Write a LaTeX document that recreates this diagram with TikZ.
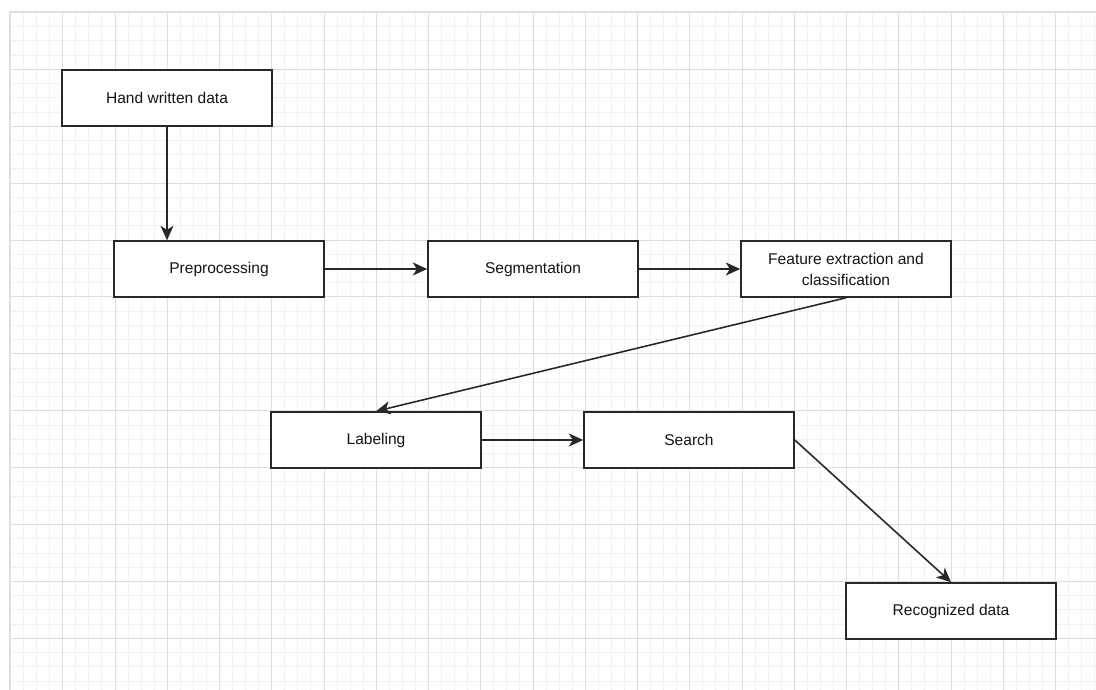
\documentclass[tikz,border=0pt]{standalone}
\usepackage{fontspec}
\setmainfont{Liberation Sans}
\usepackage{tikz}
\usetikzlibrary{arrows.meta, calc}
\definecolor{Gridmin}{RGB}{242,242,242}
\definecolor{Gridmaj}{RGB}{222,222,222}
\definecolor{Edge}{RGB}{40,40,40}

\begin{document}
\begin{tikzpicture}[
  x=0.02cm, y=-0.02cm,
  stage/.style={rectangle, draw=Edge, fill=white, line width=0.9pt,
                minimum width=4.2cm, minimum height=1.12cm,
                inner sep=1pt, align=center,
                font=\fontsize{8.85}{11.9}\selectfont, text=black!92},
  arr/.style  ={-{Stealth[length=8.2pt, width=7.4pt, inset=2.3pt]},
                line width=0.9pt, color=Edge},
  gmin/.style ={draw=Gridmin, line width=0.5pt},
  gmaj/.style ={draw=Gridmaj, line width=0.5pt},
]
\useasboundingbox (0,0) rectangle (1096,690);
\fill[white] (0,0) rectangle (1096,690);

%% ═══ Cuadricula ═══
\foreach \k in {0,...,20}
  \foreach \m in {1,2,3}
    \draw[gmin] ({floor(10.5+52.25*\k+13.0625*\m)+0.5},12) -- ++(0,678);
\foreach \k in {0,...,11}
  \foreach \m in {1,2,3}
    \draw[gmin] (10,{floor(12.5+56.9*\k+14.225*\m)+0.5}) -- ++(1086,0);
\foreach \i in {1,...,20}
  \draw[gmaj] ({floor(10.5+52.25*\i)+0.5},12) -- ++(0,678);
\foreach \j in {1,...,11}
  \draw[gmaj] (10,{floor(12.5+56.9*\j)+0.5}) -- ++(1086,0);
\draw[Gridmaj, line width=1.1pt] (10,690) -- (10,12) -- (1096,12);

%% ═══ Fila 1 ═══
\node[stage] (HWD) at (167, 98) {Hand written data};

%% ═══ Fila 2 ═══
\node[stage] (PRE) at (219, 269) {Preprocessing};
\node[stage] (SEG) at (533, 269) {Segmentation};
\node[stage] (FEC) at (846, 269) {Feature extraction and\\classification};

%% ═══ Fila 3 ═══
\node[stage] (LAB) at (376, 440) {Labeling};
\node[stage] (SRC) at (689, 440) {Search};

%% ═══ Fila 4 ═══
\node[stage] (REC) at (951, 611) {Recognized data};

\draw[arr] (HWD.south) -- (HWD.south |- PRE.north);
\draw[arr] (PRE) -- (SEG);
\draw[arr] (SEG) -- (FEC);
\draw[arr] (FEC.south) -- (LAB.north);
\draw[arr] (LAB) -- (SRC);
\draw[arr] (SRC.east) -- (REC.north);

\end{tikzpicture}
\end{document}
